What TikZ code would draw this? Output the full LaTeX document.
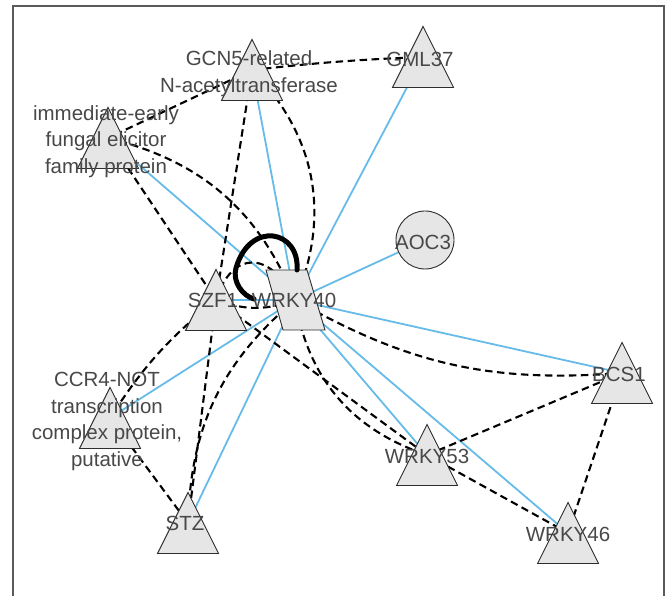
\documentclass[tikz,border=0pt]{standalone}
\usepackage{fontspec}
\setmainfont{Liberation Sans}
\usetikzlibrary{calc}
\pgfdeclarelayer{background}
\pgfsetlayers{background,main}
\definecolor{edgeblue}{RGB}{102,187,232}
\definecolor{nodefill}{RGB}{230,230,230}
\definecolor{nodeline}{RGB}{45,45,45}
\definecolor{labeltext}{RGB}{72,72,72}
\definecolor{framegray}{RGB}{90,90,90}
\begin{document}
\begin{tikzpicture}[x=1pt,y=1pt,
  shapeline/.style={draw=nodeline,fill=nodefill,line width=0.9pt,line join=miter},
  tri/.style={minimum width=64pt,minimum height=64pt,inner sep=0pt,outer sep=0pt,
    path picture={\filldraw[shapeline]
      ([yshift=30.5pt]path picture bounding box.center) --
      ([xshift=-30.5pt,yshift=-30.5pt]path picture bounding box.center) --
      ([xshift=30.5pt,yshift=-30.5pt]path picture bounding box.center) -- cycle;}},
  para/.style={minimum width=64pt,minimum height=64pt,inner sep=0pt,outer sep=0pt,
    path picture={\filldraw[shapeline]
      ([xshift=-29pt,yshift=30pt]path picture bounding box.center) --
      ([xshift=12pt,yshift=30pt]path picture bounding box.center) --
      ([xshift=30pt,yshift=-30pt]path picture bounding box.center) --
      ([xshift=-12pt,yshift=-30pt]path picture bounding box.center) -- cycle;}},
  circ/.style={circle,draw=nodeline,fill=nodefill,line width=0.9pt,minimum size=58pt,inner sep=0pt},
  lbl/.style={text=labeltext,font=\fontsize{20.5}{26.5}\selectfont,align=center,inner sep=0pt},
  blueedge/.style={draw=edgeblue,line width=1.8pt},
  dashedge/.style={draw=black,line width=2.1pt,dash pattern=on 7.5pt off 4.5pt},
  loopedge/.style={draw=black,line width=5pt,line cap=round},
]
\useasboundingbox (0,0) rectangle (671,596);
\draw[framegray,line width=1.3pt] (13,-10) -- (13,590) -- (664,590) -- (664,-10);

% nodes (shapes)
\node[tri]  (gcn5)   at (252,526) {};
\node[tri]  (gml37)  at (423,539) {};
\node[tri]  (ief)    at (108,458) {};
\node[tri]  (szf1)   at (216,296) {};
\node[para] (wrky40) at (295,296) {};
\node[circ] (aoc3)   at (425,356) {};
\node[tri]  (ccr4)   at (110,178) {};
\node[tri]  (stz)    at (188,73) {};
\node[tri]  (bcs1)   at (622,223) {};
\node[tri]  (wrky53) at (427,141) {};
\node[tri]  (wrky46) at (568,63) {};
\coordinate (loopend) at (254,297);

\begin{pgfonlayer}{background}
% blue edges
\draw[blueedge] (gcn5.center) -- (wrky40.center);
\draw[blueedge] (gml37.center) -- (wrky40.center);
\draw[blueedge] (ief.center) -- (wrky40.center);
\draw[blueedge] (aoc3.center) -- (wrky40.center);
\draw[blueedge] (wrky40.center) -- (bcs1.center);
\draw[blueedge] (wrky40.center) -- (wrky53.center);
\draw[blueedge] (wrky40.center) -- (wrky46.center);
\draw[blueedge] (wrky40.center) -- (stz.center);
\draw[blueedge] (wrky40.center) -- (ccr4.center);
\draw[blueedge] (szf1.center) -- (wrky40.center);
% dashed edges
\draw[dashedge] (gcn5.center) to[bend left=2] (gml37.center);
\draw[dashedge] (gcn5.center) -- (ief.center);
\draw[dashedge] (gcn5.center) -- (szf1.center);
\draw[dashedge] (gcn5.center) to[bend left=34] (wrky40.center);
\draw[dashedge] (ief.center) -- (szf1.center);
\draw[dashedge] (ief.center) to[bend left=27] (wrky40.center);
\draw[dashedge] (szf1.center) .. controls +(16,50) and +(-25,50) .. (wrky40.center);
\draw[dashedge] (szf1.center) to[bend right=20] (wrky40.center);
\draw[dashedge] (szf1.center) to[bend right=9] (ccr4.center);
\draw[dashedge] (szf1.center) -- (stz.center);
\draw[dashedge] (wrky40.center) to[bend right=24] (stz.center);
\draw[dashedge] (ccr4.center) -- (stz.center);
\draw[dashedge] (szf1.center) -- (wrky53.center);
\draw[dashedge] (wrky40.center) to[bend right=31] (wrky53.center);
\draw[dashedge] (wrky40.center) to[bend right=17] (bcs1.center);
\draw[dashedge] (wrky53.center) -- (bcs1.center);
\draw[dashedge] (wrky53.center) -- (wrky46.center);
\draw[dashedge] (bcs1.center) -- (wrky46.center);
\end{pgfonlayer}

% self loop
\draw[loopedge] ([shift={(2pt,-2pt)}]wrky40.north) .. controls +(3,40) and +(14,48) .. (236,328)
  .. controls +(-4,-14) and +(-11,3) .. (loopend);

% labels
\node[lbl] (gcn5-t)   at (249,522.5) {GCN5-related\\N-acetyltransferase};
\node[lbl] (gml37-t)  at (420,537) {GML37};
\node[lbl] (ief-t)    at (106,454.5) {immediate-early\\fungal elicitor\\family protein};
\node[lbl] (szf1-t)   at (213,296) {SZF1};
\node[lbl] (wrky40-t) at (294,296) {WRKY40};
\node[lbl] (aoc3-t)   at (423,354) {AOC3};
\node[lbl] (ccr4-t)   at (107,174.5) {CCR4-NOT\\transcription\\complex protein,\\putative};
\node[lbl] (stz-t)    at (185,73) {STZ};
\node[lbl] (bcs1-t)   at (619,222) {BCS1};
\node[lbl] (wrky53-t) at (427,140) {WRKY53};
\node[lbl] (wrky46-t) at (568,62) {WRKY46};
\end{tikzpicture}
\end{document}
